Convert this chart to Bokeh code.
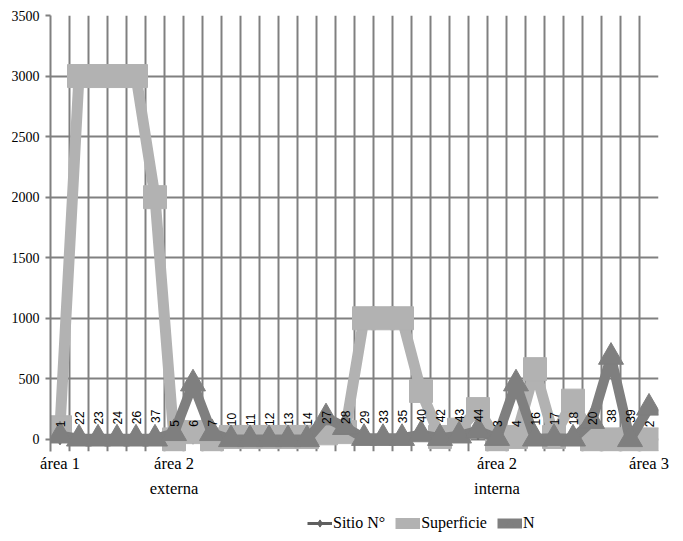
import math
from bokeh.plotting import figure
from bokeh.layouts import column
from bokeh.models import (Range1d, FixedTicker, LinearAxis, Legend, LegendItem,
                          ColumnDataSource)
from bokeh.core.properties import value
from bokeh.embed import file_html
from bokeh.resources import INLINE

# ---- data ----
sitio = [1, 22, 23, 24, 26, 37, 5, 6, 7, 10, 11, 12, 13, 14, 27, 28, 29, 33, 35,
         40, 42, 43, 44, 3, 4, 16, 17, 18, 20, 38, 39, 2]
superficie = [100, 3000, 3000, 3000, 3000, 2000, 0, 60, 0, 20, 20, 20, 20, 20, 50, 60,
              1000, 1000, 1000, 400, 20, 80, 250, 0, 20, 580, 20, 320, 0, 0, 0, 0]
n_vals = [30, 5, 5, 5, 5, 5, 50, 460, 50, 0, 0, 0, 0, 0, 180, 100, 10, 10, 10,
          40, 10, 30, 70, 10, 460, 5, 10, 5, 150, 680, 0, 260]
group_index = [0, 6, 23, 31]
group_line1 = ["área 1", "área 2", "área 2", "área 3"]
group_line2 = ["", "externa", "interna", ""]
y_ticks = [0, 500, 1000, 1500, 2000, 2500, 3000, 3500]
series_names = ["Sitio N°", "Superficie", "N"]

ncat = len(sitio)
xc = [i + 0.5 for i in range(ncat)]
src = ColumnDataSource(dict(x=xc, sitio=sitio, sup=superficie, n=n_vals,
                            lab=[str(s) for s in sitio]))

GRID = "#808080"
LIGHT = "#b2b2b2"
DARK = "#7f7f7f"
SITIO = "#5f5f5f"
SERIF = "Liberation Serif"

p = figure(width=675, height=500, output_backend="svg", toolbar_location=None,
           x_range=Range1d(0, ncat), y_range=Range1d(-100, 3500),
           min_border_left=50, min_border_right=17, min_border_top=15,
           min_border_bottom=48, outline_line_color=None,
           background_fill_color="white", border_fill_color="white")

# grids
p.xgrid.ticker = FixedTicker(ticks=list(range(ncat + 1)))
p.xgrid.grid_line_color = GRID
p.xgrid.grid_line_width = 2
p.ygrid.ticker = FixedTicker(ticks=y_ticks)
p.ygrid.grid_line_color = GRID
p.ygrid.grid_line_width = 2

# y axis
p.yaxis.ticker = FixedTicker(ticks=y_ticks)
p.yaxis.axis_line_color = GRID
p.yaxis.axis_line_width = 2
p.yaxis.major_tick_line_color = GRID
p.yaxis.major_tick_line_width = 2
p.yaxis.major_tick_in = 0
p.yaxis.major_tick_out = 5
p.yaxis.minor_tick_line_color = None
p.yaxis.major_label_standoff = 6
p.yaxis.major_label_text_font = SERIF
p.yaxis.major_label_text_font_size = "14px"
p.yaxis.major_label_text_color = "black"

# x axis (two lines of group labels)
tick_pos = [xc[i] for i in group_index]
xa = p.xaxis[0]
xa.ticker = FixedTicker(ticks=tick_pos)
xa.major_label_overrides = {t: l for t, l in zip(tick_pos, group_line1)}
xa.axis_line_color = None
xa.major_tick_line_color = None
xa.minor_tick_line_color = None
xa.major_tick_out = 0
xa.major_tick_in = 0
xa.major_label_standoff = 2
xa.major_label_text_font = SERIF
xa.major_label_text_font_size = "16.5px"
xa.major_label_text_color = "black"

xa2 = LinearAxis(ticker=FixedTicker(ticks=tick_pos),
                 major_label_overrides={t: l for t, l in zip(tick_pos, group_line2)},
                 axis_line_color=None, major_tick_line_color=None,
                 minor_tick_line_color=None, major_tick_out=0, major_tick_in=0,
                 major_label_standoff=3, major_label_text_font=SERIF,
                 major_label_text_font_size="16.5px", major_label_text_color="black")
p.add_layout(xa2, "below")

# series
line_kw = [dict(line_color=SITIO, line_width=3),
           dict(line_color=LIGHT, line_width=11),
           dict(line_color=DARK, line_width=10)]
mark_kw = [dict(marker="diamond", size=11, fill_color=SITIO, line_color=SITIO),
           dict(marker="square", size=23, fill_color=LIGHT, line_color=LIGHT),
           dict(marker="triangle", size=25, fill_color=DARK, line_color=DARK)]
cols = ["sitio", "sup", "n"]

for col, lk, mk in zip(cols, line_kw, mark_kw):
    p.line("x", col, source=src, **lk)
    p.scatter("x", col, source=src, **mk)

# data labels of Sitio N°
p.text("x", "sitio", text="lab", source=src, angle=math.pi / 2,
       text_align="left", text_baseline="middle", y_offset=-12,
       text_font=value("Liberation Sans"), text_font_size="12px",
       text_color="black")

# legend strip below the chart (its renderers use the same data, kept out of view)
lf = figure(width=675, height=41, output_backend="svg", toolbar_location=None,
            x_axis_type=None, y_axis_type=None, x_range=Range1d(0, 1),
            y_range=Range1d(-3000, -2000), min_border=0, min_border_left=0,
            min_border_right=0, min_border_top=0, min_border_bottom=0,
            outline_line_color=None,
            background_fill_color="white", border_fill_color="white")
lf.xgrid.visible = False
lf.ygrid.visible = False
items = []
for name, col, lk, mk in zip(series_names, cols, line_kw, mark_kw):
    rl = lf.line("x", col, source=src, **lk)
    rm = lf.scatter("x", col, source=src, **mk)
    items.append(LegendItem(label=name, renderers=[rl, rm]))
legend = Legend(items=items, orientation="horizontal", location=(257, 9),
                padding=0, margin=0, spacing=10, border_line_color=None,
                background_fill_alpha=0, glyph_width=25, glyph_height=18,
                label_standoff=1, label_height=18,
                label_text_font=SERIF, label_text_font_size="16px",
                label_text_color="black")
lf.add_layout(legend, "center")

open("out.html", "w").write(file_html(column(p, lf), INLINE))
